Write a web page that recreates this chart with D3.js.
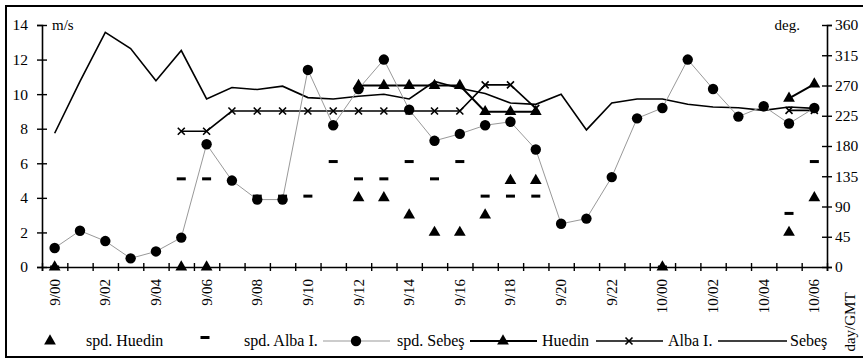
<!DOCTYPE html>
<html>
<head>
<meta charset="utf-8">
<script src="https://cdn.jsdelivr.net/npm/d3@7"></script>
<style>
body{margin:0;background:#fff;}
text{font-family:"Liberation Serif","Times New Roman",serif;fill:#000;}
</style>
</head>
<body>
<div class="bod"></div>
<script>
// hours, 9/00 .. 10/06
var hours = ['9/00','9/01','9/02','9/03','9/04','9/05','9/06','9/07','9/08','9/09','9/10','9/11','9/12','9/13','9/14','9/15','9/16','9/17','9/18','9/19','9/20','9/21','9/22','9/23','10/00','10/01','10/02','10/03','10/04','10/05','10/06']

// speeds m/s (left axis)
var spdHuedin = [0,null,null,null,null,0,0,null,null,null,null,null,4,4,3,2,2,3,5,5,null,null,null,null,0,null,null,null,null,2,4]
var spdAlba = [0,null,null,null,null,5.1,5.1,null,4.1,4.1,4.1,6.1,5.1,5.1,6.1,5.1,6.1,4.1,4.1,4.1,null,null,null,null,0,null,null,null,null,3.1,6.1]
var spdSebes = [1.1,2.1,1.5,0.5,0.9,1.7,7.1,5.0,3.9,3.9,11.4,8.2,10.3,12.0,9.1,7.3,7.7,8.2,8.4,6.8,2.5,2.8,5.2,8.6,9.2,12.0,10.3,8.7,9.3,8.3,9.2]

// directions deg. (right axis)
var dirHuedin = [null,null,null,null,null,null,null,null,null,null,null,null,270,270,270,270,270,231,231,231,null,null,null,null,null,null,null,null,null,251,272]
var dirAlba = [null,null,null,null,null,202,202,232,232,232,232,232,232,232,232,232,232,271,271,236,null,null,null,null,null,null,null,null,null,233,233]
var dirSebes = [199,276,349,325,277,322,250,267,264,269,252,250,254,257,250,276,266,258,244,242,257,204,244,250,250,242,238,237,233,238,236]

var size = {width:863,height:359}
var plot = {left:42,right:827,top:25,bottom:267}

const svg = d3.select('.bod').append('svg')
  .attr('width',size.width).attr('height',size.height)

// frame
svg.append('rect').attr('x',6).attr('y',6).attr('width',870).attr('height',351)
  .attr('fill','none').attr('stroke','#000').attr('stroke-width',2)

let x = d3.scaleBand().domain(hours).range([plot.left,plot.right])
let xi = d3.scaleLinear().domain([0,hours.length]).range([plot.left,plot.right])
let yL = d3.scaleLinear().domain([0,14]).range([plot.bottom,plot.top])
let yR = d3.scaleLinear().domain([0,360]).range([plot.bottom,plot.top])
let cx = i => x(hours[i]) + x.bandwidth()/2

// axes
let axL = svg.append('g').attr('transform',`translate(${plot.left},0)`)
  .call(d3.axisLeft(yL).tickValues(d3.range(0,15,2)).tickSize(5).tickPadding(9))
axL.selectAll('.tick line').attr('x1',5)
let axR = svg.append('g').attr('transform',`translate(${plot.right},0)`)
  .call(d3.axisRight(yR).tickValues(d3.range(0,361,45)).tickSize(5).tickPadding(3))
axR.selectAll('.tick line').attr('x1',-5)
let axB = svg.append('g').attr('transform',`translate(0,${plot.bottom})`)
  .call(d3.axisBottom(xi).tickValues(d3.range(hours.length+1)).tickSize(4).tickFormat(''))
axB.selectAll('.tick line').attr('y1',-4)
svg.selectAll('.domain').attr('stroke-width',1.6)
svg.selectAll('.tick line').attr('stroke-width',1.4)
svg.selectAll('.tick text').style('font-family','"Liberation Serif",serif').style('font-size','15.5px').attr('fill','#000')

// x labels every 2 hours
svg.append('g').selectAll('text')
  .data(hours.filter((h,i)=>i%2==0))
  .enter().append('text')
  .attr('transform',d=>`translate(${x(d)+x.bandwidth()/2+5},279) rotate(-90)`)
  .attr('text-anchor','end')
  .style('font-size','15px')
  .text(d=>d)

svg.append('text').attr('x',52).attr('y',30).style('font-size','15px').text('m/s')
svg.append('text').attr('x',800).attr('y',30).attr('text-anchor','end').style('font-size','15px').text('deg.')
svg.append('text').attr('transform','translate(855,322) rotate(-90)').attr('text-anchor','middle').style('font-size','15px').text('day/GMT')

let tri = d3.symbol().type(d3.symbolTriangle).size(60)
let xmark = 'M-3.5,-3.5L3.5,3.5M-3.5,3.5L3.5,-3.5'

let pts = arr => arr.map((v,i)=>({i:i,v:v})).filter(d=>d.v!=null)

// direction lines
let lineR = d3.line().defined(d=>d!=null).x((d,i)=>cx(i)).y(d=>yR(d))
svg.append('path').attr('d',lineR(dirSebes)).attr('fill','none').attr('stroke','#000').attr('stroke-width',1.6)
svg.append('path').attr('d',lineR(dirAlba)).attr('fill','none').attr('stroke','#000').attr('stroke-width',1.6)
svg.selectAll('.xm').data(pts(dirAlba)).enter().append('path').classed('xm',true)
  .attr('d',xmark).attr('transform',d=>`translate(${cx(d.i)},${yR(d.v)})`)
  .attr('stroke','#000').attr('stroke-width',1.6)
svg.append('path').attr('d',lineR(dirHuedin)).attr('fill','none').attr('stroke','#000').attr('stroke-width',2)
svg.selectAll('.th').data(pts(dirHuedin)).enter().append('path').classed('th',true)
  .attr('d',tri).attr('transform',d=>`translate(${cx(d.i)},${yR(d.v)})`)

// speeds
let lineL = d3.line().x((d,i)=>cx(i)).y(d=>yL(d))
svg.append('path').attr('d',lineL(spdSebes)).attr('fill','none').attr('stroke','#999').attr('stroke-width',1)
svg.selectAll('.ds').data(pts(spdSebes)).enter().append('circle').classed('ds',true)
  .attr('cx',d=>cx(d.i)).attr('cy',d=>yL(d.v)).attr('r',5.2).attr('fill','#000')
svg.selectAll('.da').data(pts(spdAlba)).enter().append('rect').classed('da',true)
  .attr('x',d=>cx(d.i)-4.5).attr('y',d=>yL(d.v)-1.5).attr('width',9).attr('height',3).attr('fill','#000')
svg.selectAll('.sh').data(pts(spdHuedin)).enter().append('path').classed('sh',true)
  .attr('d',tri).attr('transform',d=>`translate(${cx(d.i)},${yL(d.v)})`)

// legend
let ly = 341
let fs = '16px'
let leg = svg.append('g')
leg.append('path').attr('d',tri).attr('transform',`translate(50,${ly})`)
leg.append('text').attr('x',86).attr('y',ly+5).style('font-size',fs).text('spd. Huedin')
leg.append('rect').attr('x',200.5).attr('y',ly-5).attr('width',9).attr('height',3)
leg.append('text').attr('x',244).attr('y',ly+5).style('font-size',fs).text('spd. Alba I.')
leg.append('line').attr('x1',323).attr('x2',390).attr('y1',ly).attr('y2',ly).attr('stroke','#999').attr('stroke-width',1)
leg.append('circle').attr('cx',356).attr('cy',ly).attr('r',5.2)
leg.append('text').attr('x',397).attr('y',ly+5).style('font-size',fs).text('spd. Sebeş')
leg.append('line').attr('x1',470).attr('x2',537).attr('y1',ly).attr('y2',ly).attr('stroke','#000').attr('stroke-width',2)
leg.append('path').attr('d',tri).attr('transform',`translate(503,${ly})`)
leg.append('text').attr('x',542).attr('y',ly+5).style('font-size',fs).text('Huedin')
leg.append('line').attr('x1',596).attr('x2',663).attr('y1',ly).attr('y2',ly).attr('stroke','#000').attr('stroke-width',1.6)
leg.append('path').attr('d',xmark).attr('transform',`translate(629,${ly})`).attr('stroke','#000').attr('stroke-width',1.6)
leg.append('text').attr('x',668).attr('y',ly+5).style('font-size',fs).text('Alba I.')
leg.append('line').attr('x1',718).attr('x2',787).attr('y1',ly).attr('y2',ly).attr('stroke','#000').attr('stroke-width',1.6)
leg.append('text').attr('x',790).attr('y',ly+5).style('font-size',fs).text('Sebeş')
</script>
</body>
</html>
